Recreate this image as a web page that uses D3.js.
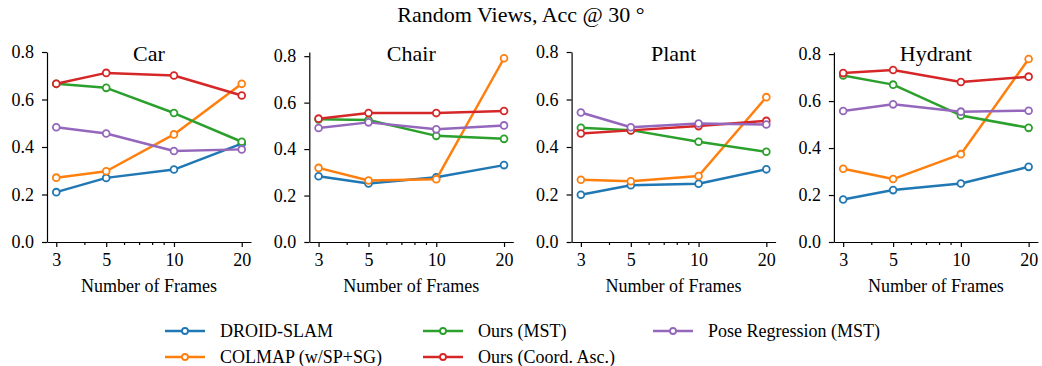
<!DOCTYPE html>
<html lang="en">
<head>
    <meta charset="UTF-8">
    <title>Random Views, Acc @ 30</title>
    <script src="https://d3js.org/d3.v7.min.js"></script>
    <style>
        body { margin: 0; background: #fff; }
        .axis path, .axis line { stroke: #000; stroke-width: 1.2; }
    </style>
</head>
<body>
    <div id="chart"></div>

    <script>
        // data
        const frames = [3, 5, 10, 20];
        const categories = ["Car", "Chair", "Plant", "Hydrant"];
        const methods = ["DROID-SLAM", "COLMAP (w/SP+SG)", "Ours (MST)", "Ours (Coord. Asc.)", "Pose Regression (MST)"];
        const colors = ["#1f77b4", "#ff7f0e", "#2ca02c", "#d62728", "#9467bd"];

        const droidSlam = {
            Car:     [0.210, 0.270, 0.305, 0.414],
            Chair:   [0.283, 0.252, 0.279, 0.331],
            Plant:   [0.199, 0.239, 0.245, 0.306],
            Hydrant: [0.181, 0.221, 0.249, 0.320]
        };
        const colmap = {
            Car:     [0.271, 0.298, 0.453, 0.666],
            Chair:   [0.319, 0.265, 0.270, 0.791],
            Plant:   [0.262, 0.256, 0.278, 0.610],
            Hydrant: [0.312, 0.268, 0.374, 0.779]
        };
        const oursMst = {
            Car:     [0.666, 0.649, 0.543, 0.422],
            Chair:   [0.528, 0.525, 0.457, 0.444],
            Plant:   [0.481, 0.471, 0.422, 0.380],
            Hydrant: [0.709, 0.670, 0.539, 0.486]
        };
        const oursCoord = {
            Car:     [0.666, 0.712, 0.701, 0.617],
            Chair:   [0.531, 0.555, 0.555, 0.564],
            Plant:   [0.457, 0.470, 0.488, 0.510],
            Hydrant: [0.719, 0.732, 0.681, 0.704]
        };
        const poseReg = {
            Car:     [0.483, 0.457, 0.383, 0.390],
            Chair:   [0.491, 0.515, 0.485, 0.502],
            Plant:   [0.545, 0.483, 0.499, 0.495],
            Hydrant: [0.558, 0.586, 0.555, 0.559]
        };
        const seriesData = [droidSlam, colmap, oursMst, oursCoord, poseReg];

        const yTicks = [0.0, 0.2, 0.4, 0.6, 0.8];
        const xMinor = [4, 6, 7, 8, 9];

        const width = 1042;
        const height = 366;
        const serif = "'Liberation Serif', Tinos, 'Nimbus Roman', 'Nimbus Roman No9 L', 'Times New Roman', Times, FreeSerif, 'Noto Serif', 'DejaVu Serif', serif";

        const svg = d3.select("#chart")
            .append("svg")
            .attr("width", width)
            .attr("height", height)
            .attr("font-family", serif);

        svg.append("text")
            .attr("x", 521)
            .attr("y", 22)
            .attr("text-anchor", "middle")
            .style("font-family", serif)
            .style("font-size", "22px")
            .text("Random Views, Acc @ 30 °");

        // panel layout
        const panelLeft = 47;
        const panelStep = 262.3;
        const panelW = 204;
        const plotTop = 52;
        const plotBottom = 242;

        // matplotlib-style log margin on x
        const k = Math.exp(0.05 * Math.log(20 / 3));

        categories.forEach((cat, ci) => {
            const x0 = panelLeft + ci * panelStep;
            const g = svg.append("g");

            const allVals = seriesData.flatMap(s => s[cat]);
            const lo = d3.min(allVals), hi = d3.max(allVals);
            const yMax = Math.max(0.8, hi + 0.05 * (hi - lo));

            const x = d3.scaleLog()
                .domain([3 / k, 20 * k])
                .range([x0, x0 + panelW]);
            const y = d3.scaleLinear()
                .domain([0, yMax])
                .range([plotBottom, plotTop]);

            // axes
            g.append("g")
                .attr("class", "axis")
                .attr("transform", `translate(0,${plotBottom})`)
                .call(d3.axisBottom(x).tickValues(frames).tickFormat(d3.format("d"))
                    .tickSize(5).tickSizeOuter(0).tickPadding(6))
                .attr("font-family", serif)
                .call(a => a.selectAll("text").style("font-family", serif).style("font-size", "18px"));

            g.append("g")
                .attr("class", "axis")
                .attr("transform", `translate(0,${plotBottom})`)
                .call(d3.axisBottom(x).tickValues(xMinor).tickFormat("").tickSize(3).tickSizeOuter(0))
                .call(a => a.select(".domain").remove());

            g.append("g")
                .attr("class", "axis")
                .attr("transform", `translate(${x0},0)`)
                .call(d3.axisLeft(y).tickValues(yTicks).tickFormat(d3.format(".1f"))
                    .tickSize(5).tickSizeOuter(0).tickPadding(8))
                .attr("font-family", serif)
                .call(a => a.selectAll("text").style("font-family", serif).style("font-size", "18px"));

            // panel title
            g.append("text")
                .attr("x", x0 + panelW / 2)
                .attr("y", 61)
                .attr("text-anchor", "middle")
                .style("font-family", serif)
                .style("font-size", "22px")
                .text(cat);

            // x label
            g.append("text")
                .attr("x", x0 + panelW / 2)
                .attr("y", 292)
                .attr("text-anchor", "middle")
                .style("font-family", serif)
                .style("font-size", "18px")
                .text("Number of Frames");

            const line = d3.line()
                .x((d, i) => x(frames[i]))
                .y(d => y(d));

            seriesData.forEach((s, si) => {
                g.append("path")
                    .datum(s[cat])
                    .attr("fill", "none")
                    .attr("stroke", colors[si])
                    .attr("stroke-width", 2.5)
                    .attr("stroke-linejoin", "round")
                    .attr("d", line);

                g.selectAll(null)
                    .data(s[cat])
                    .join("circle")
                    .attr("cx", (d, i) => x(frames[i]))
                    .attr("cy", d => y(d))
                    .attr("r", 3.4)
                    .attr("fill", "#fff")
                    .attr("stroke", colors[si])
                    .attr("stroke-width", 1.8);
            });
        });

        // legend (3 columns, column-major)
        const legCols = [165, 423, 653];
        const legRows = [331, 357];
        methods.forEach((m, i) => {
            const lx = legCols[Math.floor(i / 2)];
            const ly = legRows[i % 2];
            const lg = svg.append("g");
            lg.append("line")
                .attr("x1", lx).attr("x2", lx + 40)
                .attr("y1", ly).attr("y2", ly)
                .attr("stroke", colors[i])
                .attr("stroke-width", 2.5);
            lg.append("circle")
                .attr("cx", lx + 20).attr("cy", ly)
                .attr("r", 3)
                .attr("fill", "#fff")
                .attr("stroke", colors[i])
                .attr("stroke-width", 1.8);
            lg.append("text")
                .attr("x", lx + 55)
                .attr("y", ly)
                .attr("dy", "0.35em")
                .style("font-family", serif)
                .style("font-size", "18px")
                .text(m);
        });
    </script>
</body>
</html>
